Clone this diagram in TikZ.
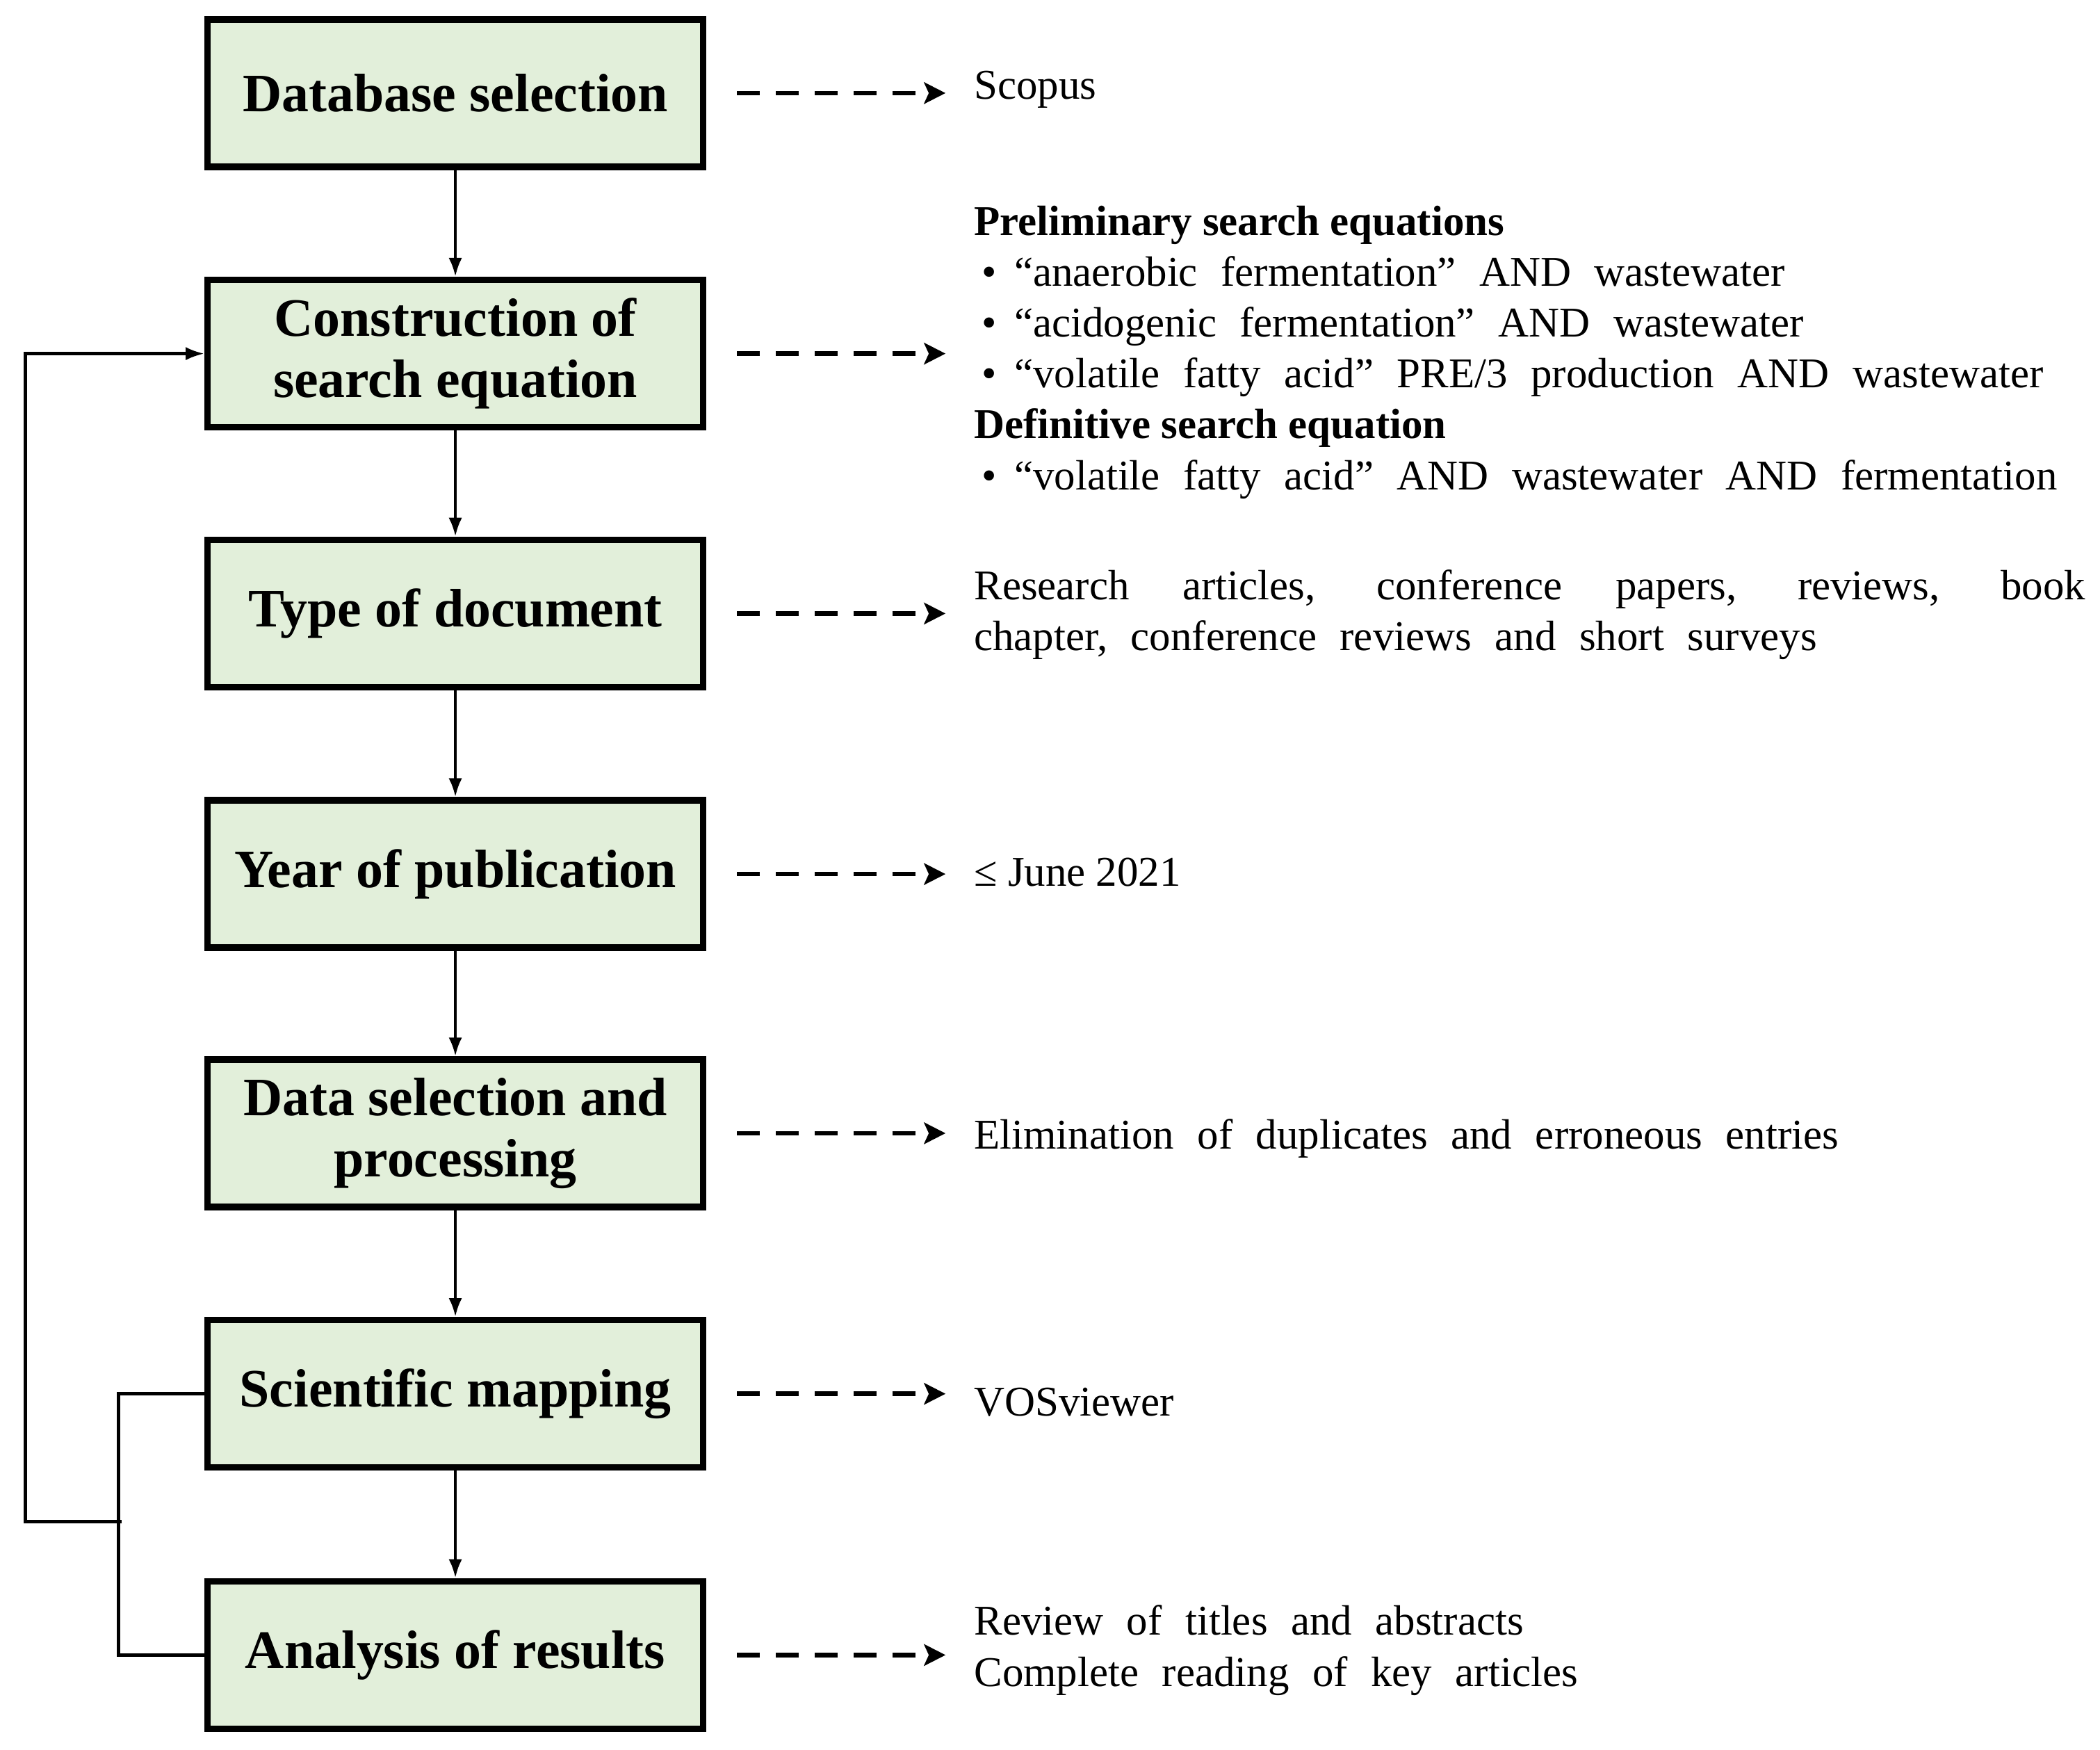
\documentclass[tikz,border=0pt]{standalone}
\usepackage{fontspec}
\setmainfont{Liberation Serif}
\newfontfamily\infofont{Liberation Serif}[WordSpace=2.2]
\usepackage{amssymb}
\usepackage{amsmath}
\usepackage{xcolor}
\usepackage{tikz}
\usetikzlibrary{arrows.meta,calc}
\definecolor{boxgreen}{HTML}{E2EFDA}
\newcommand{\eqitem}{\hspace{0.12cm}\makebox[0.48cm][l]{\textbullet}}
\newcommand{\eqhead}[1]{{\rmfamily\bfseries #1}}

\begin{document}
\begin{tikzpicture}[x=0.02cm,y=0.02cm,
  stepbox/.style={draw=black,line width=2.8pt,fill=boxgreen,minimum width=7.4cm,
                  minimum height=2.2cm,inner sep=0pt,align=center,
                  font=\bfseries\fontsize{23}{26}\selectfont},
  info/.style={anchor=west,inner sep=0pt,align=left,font=\infofont\fontsize{18}{21.6}\selectfont},
  flow/.style={line width=1.3pt,-{Latex[length=0.28cm,width=0.2cm]}},
  dasharrow/.style={line width=1.9pt,dash pattern=on 0.34cm off 0.24cm,
                    -{Stealth[length=0.32cm,width=0.32cm,inset=0.07cm]}}]
\useasboundingbox (0,0) rectangle (1568,1306);

\foreach\name/\y/\txt in {db/1236.5/Database selection,
                          cons/1042/Construction of\\search equation,
                          type/848/Type of document,
                          year/653.5/Year of publication,
                          data/460/Data selection and\\processing,
                          map/265.5/Scientific mapping,
                          res/70.5/Analysis of results}{\node[stepbox] (\name) at (340,\y) {\txt};};

\foreach\a/\b in {db/cons,cons/type,type/year,year/data,data/map,map/res}{\draw[flow] (\a) -- (\b);};

\node[info] (scopus) at (727,1239) {Scopus};
\node[info] (eqs) at (727,1043) {\eqhead{Preliminary search equations}\\
  \eqitem“anaerobic fermentation” AND wastewater\\
  \eqitem“acidogenic fermentation” AND wastewater\\
  \eqitem“volatile fatty acid” PRE/3 production AND wastewater\\
  \eqhead{Definitive search equation}\\
  \eqitem“volatile fatty acid” AND wastewater AND fermentation};
\node[info] (doctype) at (727,847) {\makebox[16.6cm][s]{Research articles, conference papers, reviews, book}\\
  chapter, conference reviews and short surveys};
\node[info] (date) at (727,655) {\rmfamily ≤ June 2021};
\node[info] (elim) at (727,456) {Elimination of duplicates and erroneous entries};
\node[info] (vos) at (727,259) {VOSviewer};
\node[info] (review) at (727,74) {Review of titles and abstracts\\Complete reading of key articles};

\foreach\a/\b in {db/scopus,cons/eqs,type/doctype,year/date,data/elim,map/vos,res/review}
  {\draw[dasharrow] ($(\a.east)+(23,0)$) -- ($(\a.east -| \b.west)+(-21,0)$);};

% feedback loop
\coordinate (join) at (91,170);
\draw[line width=1.3pt] (map.west) -- ++(-64,0) |- (res.west);
\draw[flow] (join) -- (19,170) |- (cons.west);
\end{tikzpicture}
\end{document}
